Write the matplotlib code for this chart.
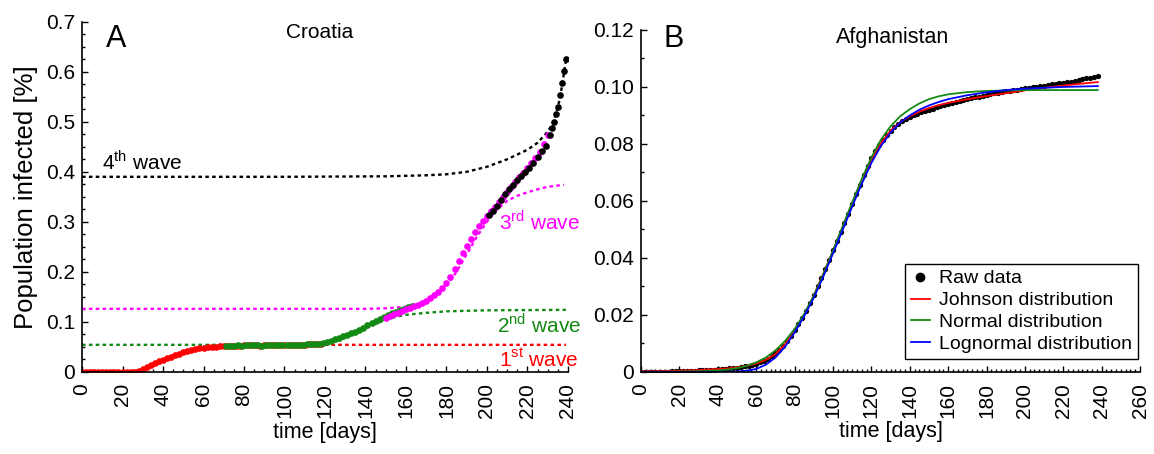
import numpy as np
import matplotlib
matplotlib.use("Agg")
import matplotlib.pyplot as plt
from matplotlib.ticker import AutoMinorLocator
from matplotlib.lines import Line2D

plt.rcParams['font.family'] = ['Liberation Sans', 'DejaVu Sans']
plt.rcParams['mathtext.fontset'] = 'custom'
plt.rcParams['mathtext.rm'] = 'Liberation Sans'

# ---- Croatia raw data (by wave) ----
red_days = list(range(0, 120, 2))
red_vals = [0]*14 + [0.002, 0.005, 0.009, 0.013, 0.017, 0.021, 0.024, 0.027, 0.030, 0.033,
                     0.036, 0.039, 0.041, 0.043, 0.045, 0.047, 0.048, 0.049, 0.050, 0.050,
                     0.051, 0.051, 0.052, 0.052, 0.052, 0.052, 0.053, 0.053, 0.053, 0.053,
                     0.052, 0.053, 0.053, 0.053, 0.053, 0.053, 0.053, 0.053, 0.054, 0.054,
                     0.054, 0.054, 0.055, 0.055, 0.055, 0.055]

green_days = list(range(71, 165, 2))
green_vals = [0.052, 0.052, 0.052, 0.053, 0.052, 0.053, 0.053, 0.053, 0.053, 0.052,
              0.053, 0.053, 0.053, 0.053, 0.053, 0.054, 0.053, 0.054, 0.054, 0.054,
              0.055, 0.055, 0.055, 0.055, 0.057, 0.059, 0.062, 0.065, 0.068, 0.071,
              0.074, 0.077, 0.080, 0.084, 0.088, 0.093, 0.098, 0.102, 0.106, 0.109,
              0.113, 0.117, 0.120, 0.123, 0.126, 0.129, 0.131]

magenta_days = list(range(150, 232, 2))
magenta_vals = [0.108, 0.112, 0.115, 0.118, 0.122, 0.125, 0.128, 0.131, 0.134, 0.138,
                0.142, 0.147, 0.153, 0.160, 0.168, 0.178, 0.190, 0.205, 0.221, 0.237,
                0.252, 0.266, 0.279, 0.291, 0.302, 0.312, 0.321, 0.330, 0.340, 0.350,
                0.360, 0.370, 0.379, 0.389, 0.398, 0.407, 0.417, 0.428, 0.440, 0.455,
                0.474]

black_days = list(range(201, 232, 2)) + [232, 233, 234, 235, 236, 237, 238, 239]
black_vals = [0.314, 0.322, 0.332, 0.344, 0.356, 0.365, 0.374, 0.383, 0.392, 0.400,
              0.408, 0.418, 0.429, 0.441, 0.452, 0.474,
              0.488, 0.500, 0.515, 0.530, 0.553, 0.578, 0.602, 0.626]

# ---- Croatia wave fits ----
fit1_days = [0, 20, 25, 30, 35, 40, 45, 50, 55, 60, 65, 70, 80, 100, 239]
fit1_vals = [0, 0, 0.001, 0.005, 0.012, 0.020, 0.028, 0.036, 0.042, 0.047, 0.050, 0.052,
             0.053, 0.054, 0.054]
fit2_days = [0, 115, 120, 125, 130, 135, 140, 145, 150, 155, 160, 170, 180, 200, 239]
fit2_vals = [0.054, 0.054, 0.056, 0.061, 0.068, 0.077, 0.087, 0.096, 0.104, 0.110, 0.114,
             0.118, 0.121, 0.123, 0.124]
fit3_days = [0, 140, 150, 160, 165, 170, 175, 180, 185, 190, 195, 200, 205, 210, 215, 220,
             225, 230, 238]
fit3_vals = [0.126, 0.126, 0.127, 0.130, 0.134, 0.142, 0.155, 0.172, 0.200, 0.235, 0.270,
             0.300, 0.325, 0.342, 0.352, 0.359, 0.365, 0.370, 0.374]
fit4_days = [0, 100, 150, 170, 180, 190, 200, 210, 220, 225, 230, 233, 236, 238, 239]
fit4_vals = [0.390, 0.390, 0.391, 0.393, 0.395, 0.400, 0.410, 0.425, 0.444, 0.458, 0.480,
             0.500, 0.545, 0.595, 0.622]

# ---- Afghanistan ----
afg_days = list(range(0, 240, 2))
afg_vals = [0.0000, 0.0000, 0.0000, 0.0001, 0.0001, 0.0001, 0.0001, 0.0001, 0.0002, 0.0002,
            0.0002, 0.0003, 0.0003, 0.0004, 0.0004, 0.0005, 0.0006, 0.0006, 0.0007, 0.0008,
            0.0009, 0.0010, 0.0011, 0.0012, 0.0013, 0.0015, 0.0017, 0.0019, 0.0022, 0.0025,
            0.0029, 0.0033, 0.0039, 0.0046, 0.0055, 0.0066, 0.0078, 0.0092, 0.0108, 0.0126,
            0.0146, 0.0167, 0.0190, 0.0215, 0.0242, 0.0270, 0.0300, 0.0331, 0.0362, 0.0394,
            0.0426, 0.0458, 0.0490, 0.0522, 0.0555, 0.0589, 0.0623, 0.0657, 0.0690, 0.0721,
            0.0749, 0.0774, 0.0796, 0.0815, 0.0831, 0.0845, 0.0858, 0.0869, 0.0879, 0.0887,
            0.0894, 0.0900, 0.0906, 0.0911, 0.0916, 0.0920, 0.0924, 0.0928, 0.0932, 0.0936,
            0.0940, 0.0943, 0.0947, 0.0950, 0.0954, 0.0957, 0.0960, 0.0963, 0.0966, 0.0969,
            0.0972, 0.0975, 0.0977, 0.0980, 0.0982, 0.0985, 0.0987, 0.0989, 0.0991, 0.0993,
            0.0995, 0.0997, 0.0999, 0.1001, 0.1003, 0.1005, 0.1007, 0.1009, 0.1011, 0.1013,
            0.1015, 0.1017, 0.1019, 0.1021, 0.1024, 0.1027, 0.1030, 0.1033, 0.1036, 0.1038]

johnson_days = [0, 5, 10, 15, 20, 25, 30, 35, 40, 45, 50, 55, 60, 65, 70, 75, 80, 85, 90, 95,
                100, 105, 110, 115, 120, 125, 130, 135, 140, 145, 150, 155, 160, 170, 180,
                190, 200, 210, 220, 230, 238]
johnson_vals = [0.0002, 0.0002, 0.0003, 0.0003, 0.0004, 0.0005, 0.0006, 0.0008, 0.0010,
                0.0012, 0.0016, 0.0021, 0.0029, 0.0042, 0.0062, 0.0097, 0.0145, 0.0200,
                0.0268, 0.0345, 0.0425, 0.0508, 0.0590, 0.0672, 0.0745, 0.0803, 0.0846,
                0.0876, 0.0897, 0.0913, 0.0926, 0.0936, 0.0944, 0.0957, 0.0968, 0.0978,
                0.0988, 0.0997, 0.1005, 0.1012, 0.1017]
normal_days = [0, 20, 30, 40, 45, 50, 55, 60, 65, 70, 75, 80, 85, 90, 95, 100, 105, 110, 115,
               120, 125, 130, 135, 140, 145, 150, 155, 160, 170, 180, 200, 238]
normal_vals = [0.0000, 0.0001, 0.0002, 0.0005, 0.0008, 0.0013, 0.0021, 0.0033, 0.0050,
               0.0075, 0.0108, 0.0150, 0.0203, 0.0268, 0.0343, 0.0425, 0.0510, 0.0595,
               0.0677, 0.0752, 0.0815, 0.0862, 0.0897, 0.0922, 0.0942, 0.0957, 0.0967,
               0.0974, 0.0982, 0.0986, 0.0989, 0.0989]
lognormal_days = [0, 45, 50, 55, 60, 65, 70, 75, 80, 85, 90, 95, 100, 105, 110, 115, 120,
                  125, 130, 135, 140, 145, 150, 155, 160, 170, 180, 190, 200, 220, 238]
lognormal_vals = [0.0, 0.0, 0.0001, 0.0004, 0.0010, 0.0025, 0.0050, 0.0088, 0.0138, 0.0195,
                  0.0260, 0.0335, 0.0415, 0.0497, 0.0580, 0.0660, 0.0733, 0.0793, 0.0840,
                  0.0875, 0.0900, 0.0920, 0.0935, 0.0947, 0.0957, 0.0971, 0.0981, 0.0989,
                  0.0994, 0.1000, 0.1003]

fig = plt.figure(figsize=(11.54, 4.54), dpi=100)
axA = fig.add_axes([0.0711, 0.181, 0.421, 0.771])
axB = fig.add_axes([0.5555, 0.181, 0.4324, 0.753])

magenta = '#ff00ff'
green = '#138a13'
red = '#ff0000'

# panel A
dot = dict(linestyle=(0, (1.5, 1.4)), linewidth=1.7)
axA.plot(fit1_days, fit1_vals, color=red, **dot)
axA.plot(fit2_days, fit2_vals, color=green, **dot)
axA.plot(fit3_days, fit3_vals, color=magenta, **dot)
axA.plot(fit4_days, fit4_vals, color='black', **dot)
axA.plot(red_days, red_vals, 'o', color=red, ms=4.8, mec='none')
axA.plot(green_days, green_vals, 'o', color=green, ms=4.8, mec='none')
axA.plot(magenta_days, magenta_vals, 'o', color=magenta, ms=4.8, mec='none')
axA.plot(black_days, black_vals, 'o', color='black', ms=4.8, mec='none')

axA.set_xlim(0, 240)
axA.set_ylim(0, 0.7)
axA.set_xticks(range(0, 241, 20))
axA.set_yticks(np.arange(0, 0.71, 0.1))
axA.set_yticklabels(['0', '0.1', '0.2', '0.3', '0.4', '0.5', '0.6', '0.7'])
axA.set_ylabel('Population infected [%]', fontsize=18.5, labelpad=6)
axA.set_xlabel('time [days]', fontsize=15.5, labelpad=3)

axA.text(10, 0.42, '4$^{\\rm th}$ wave', fontsize=15, color='black', va='center')
axA.text(206, 0.30, '3$^{\\rm rd}$ wave', fontsize=15, color=magenta, va='center')
axA.text(205, 0.094, '2$^{\\rm nd}$ wave', fontsize=15, color=green, va='center')
axA.text(206, 0.024, '1$^{\\rm st}$ wave', fontsize=15, color=red, va='center')
axA.text(0.05, 0.952, 'A', transform=axA.transAxes, fontsize=22, va='center')
axA.text(0.49, 0.968, 'Croatia', transform=axA.transAxes, fontsize=15, va='center',
         ha='center')

# panel B
axB.plot(afg_days, afg_vals, 'o', color='black', ms=3.8, mec='none')
axB.plot(johnson_days, johnson_vals, color=red, lw=1.3)
axB.plot(normal_days, normal_vals, color=green, lw=1.3)
axB.plot(lognormal_days, lognormal_vals, color='blue', lw=1.3)

axB.set_xlim(0, 260)
axB.set_ylim(0, 0.12)
axB.set_xticks(range(0, 261, 20))
axB.set_yticks(np.arange(0, 0.121, 0.02))
axB.set_yticklabels(['0', '0.02', '0.04', '0.06', '0.08', '0.10', '0.12'])
axB.set_xlabel('time [days]', fontsize=15.5, labelpad=2)
axB.text(0.045, 0.975, 'B', transform=axB.transAxes, fontsize=22, va='center')
axB.text(0.505, 0.978, 'Afghanistan', transform=axB.transAxes, fontsize=15.5, va='center',
         ha='center')

handles = [Line2D([], [], marker='o', ls='none', color='black', ms=6),
           Line2D([], [], color=red, lw=1.3),
           Line2D([], [], color=green, lw=1.3),
           Line2D([], [], color='blue', lw=1.3)]
labels = ['Raw data', 'Johnson distribution', 'Normal distribution', 'Lognormal distribution']
leg = axB.legend(handles, labels, loc='upper left', bbox_to_anchor=(0.784, 0.4185),
                 bbox_transform=fig.transFigure, fontsize=14, fancybox=False,
                 framealpha=1, edgecolor='black', handlelength=1.0, handletextpad=0.45,
                 borderpad=0.3, labelspacing=0.22, borderaxespad=0)
leg.get_frame().set_linewidth(1.0)

for ax, xminor, yminor in ((axA, 4, 4), (axB, 8, 2)):
    for s in ('top', 'right'):
        ax.spines[s].set_visible(False)
    ax.spines['left'].set_linewidth(1.2)
    ax.spines['bottom'].set_linewidth(1.2)
    ax.xaxis.set_minor_locator(AutoMinorLocator(xminor))
    ax.yaxis.set_minor_locator(AutoMinorLocator(yminor))
    ax.tick_params(which='major', direction='in', length=4, width=1, labelsize=15)
    ax.tick_params(which='minor', direction='in', length=2, width=1)
    ax.tick_params(axis='x', labelrotation=90, pad=8)
    ax.tick_params(axis='y', pad=5)

fig.savefig('out.png', dpi=100)
